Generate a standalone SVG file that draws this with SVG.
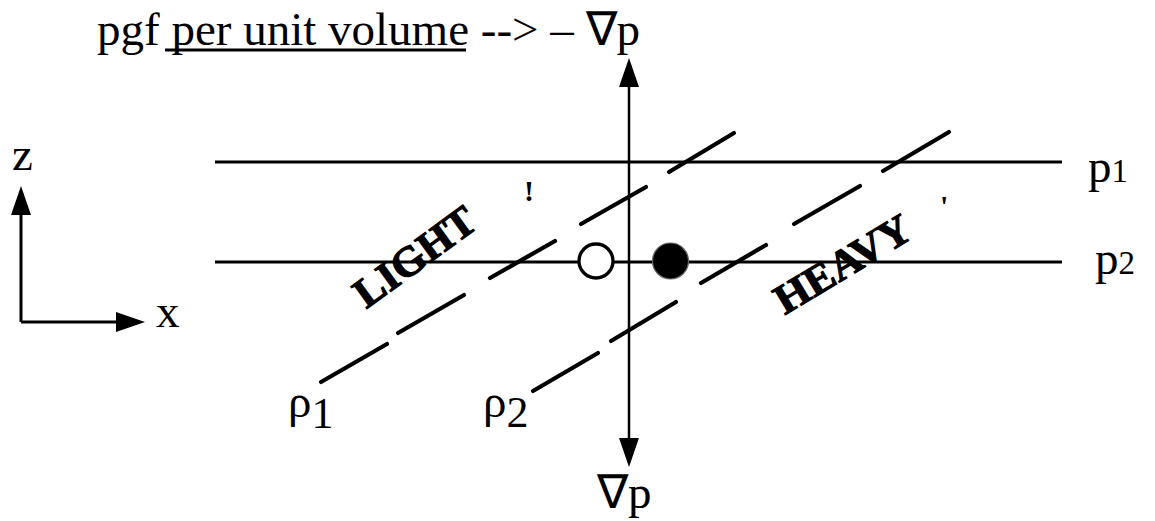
<svg xmlns="http://www.w3.org/2000/svg" width="1155" height="521" viewBox="0 0 1155 521">
  <defs>
    <marker id="ah" markerUnits="userSpaceOnUse" markerWidth="30" markerHeight="22" refX="0" refY="10" orient="auto-start-reverse" overflow="visible">
      <path d="M0,0 L29,10 L0,20 Z" fill="#000"/>
    </marker>
  </defs>
  <style>
    .t { font-family: "Liberation Serif", "Times New Roman", serif; fill: #000; }
    .lbl { font-size: 47px; }
    .sub { font-size: 33px; }
    .big { font-size: 42px; font-weight: bold; stroke: #000; stroke-width: 1.2; }
    .ln { stroke: #000; fill: none; }
    .iso { stroke-width: 3; }
    .dash { stroke-width: 4.2; stroke-linecap: round; }
    .ax { stroke-width: 3; }
  </style>
  <rect width="1155" height="521" fill="#fff"/>

  <g id="title">
    <text class="t lbl" x="97" y="45">pgf per unit volume --&gt; – ∇p</text>
    <line class="ln" x1="165" y1="50" x2="466" y2="50" stroke-width="3"/>
  </g>

  <g id="axes">
    <line class="ln ax" x1="21" y1="322" x2="21" y2="215" marker-end="url(#ah)"/>
    <line class="ln ax" x1="21" y1="322" x2="116" y2="322" marker-end="url(#ah)"/>
    <text class="t lbl" x="12" y="170">z</text>
    <text class="t lbl" x="156" y="327">x</text>
  </g>

  <g id="isobar-p1">
    <line class="ln iso" x1="215" y1="162" x2="1062" y2="162"/>
    <text class="t lbl" x="1088" y="182">p<tspan class="sub">1</tspan></text>
  </g>
  <g id="isobar-p2">
    <line class="ln iso" x1="215" y1="262" x2="1062" y2="262"/>
    <text class="t lbl" x="1095" y="274">p<tspan class="sub">2</tspan></text>
  </g>

  <g id="rho1">
    <g class="ln dash">
      <line x1="321" y1="382" x2="387" y2="344"/>
      <line x1="398" y1="333" x2="464" y2="295"/>
      <line x1="490" y1="278" x2="555" y2="241"/>
      <line x1="581" y1="224" x2="646" y2="187"/>
      <line x1="669" y1="172" x2="734" y2="133"/>
    </g>
    <text class="t lbl" x="288" y="417">ρ<tspan font-size="44" dy="11">1</tspan></text>
  </g>
  <g id="rho2">
    <g class="ln dash">
      <line x1="533" y1="391" x2="598" y2="353"/>
      <line x1="611" y1="341" x2="676" y2="302"/>
      <line x1="701" y1="283" x2="766" y2="245"/>
      <line x1="794" y1="224" x2="860" y2="186"/>
      <line x1="883" y1="171" x2="949" y2="132"/>
    </g>
    <text class="t lbl" x="483" y="417">ρ<tspan font-size="44" dy="10">2</tspan></text>
  </g>

  <g id="light-label">
    <text class="t big" transform="translate(423,268) rotate(-36)" text-anchor="middle" textLength="140" lengthAdjust="spacingAndGlyphs">LIGHT</text>
    <text class="t" x="524" y="201" font-size="30" font-weight="bold">!</text>
  </g>
  <g id="heavy-label">
    <text class="t big" transform="translate(850,276) rotate(-31)" text-anchor="middle" textLength="152" lengthAdjust="spacingAndGlyphs">HEAVY</text>
    <text class="t" x="940" y="216" font-size="30" font-weight="bold">'</text>
  </g>

  <g id="parcel-light">
    <circle cx="596" cy="261" r="17" fill="#fff" stroke="#000" stroke-width="3.3"/>
  </g>
  <g id="parcel-heavy">
    <circle cx="670.5" cy="261" r="18" fill="#000" stroke="#666" stroke-width="1.2"/>
  </g>

  <g id="connectors">
    <line class="ln" x1="629" y1="87" x2="629" y2="438" stroke-width="2.5" marker-start="url(#ah)" marker-end="url(#ah)"/>
  </g>

  <g id="grad-label">
    <text class="t lbl" x="597" y="508">∇p</text>
  </g>
</svg>
